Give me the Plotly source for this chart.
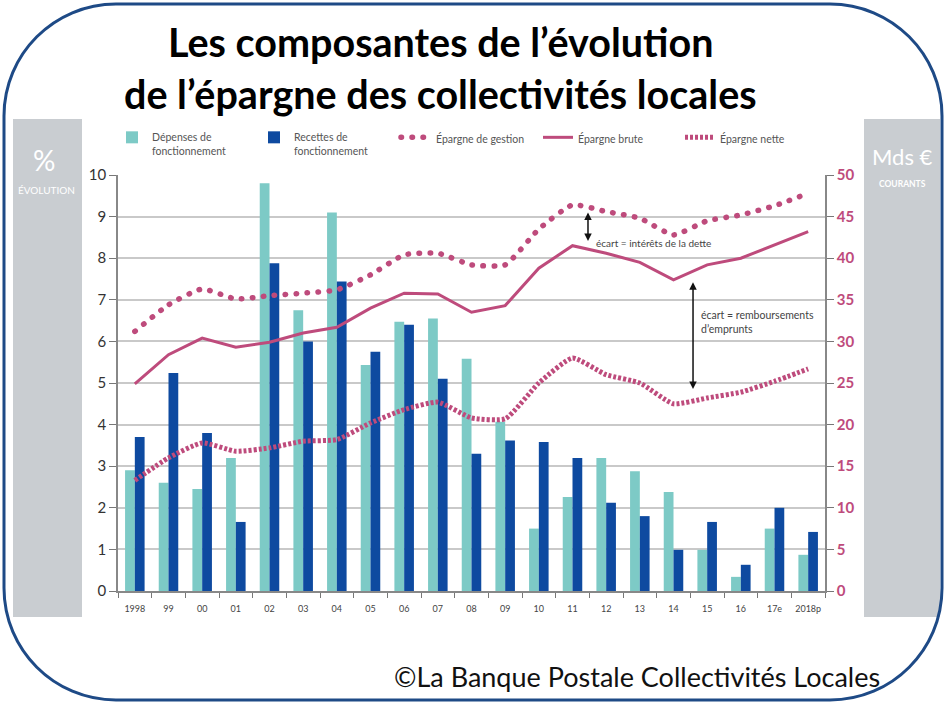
import plotly.graph_objects as go

# ---------------- data ----------------
years = ["1998", "99", "00", "01", "02", "03", "04", "05", "06", "07", "08",
         "09", "10", "11", "12", "13", "14", "15", "16", "17e", "2018p"]
depenses = [2.9, 2.6, 2.45, 3.2, 9.8, 6.75, 9.1, 5.43, 6.47, 6.55, 5.58,
            4.07, 1.5, 2.26, 3.2, 2.88, 2.38, 0.99, 0.34, 1.5, 0.87]
recettes = [3.7, 5.24, 3.8, 1.66, 7.88, 6.0, 7.44, 5.75, 6.4, 5.1, 3.3,
            3.62, 3.58, 3.2, 2.12, 1.8, 0.99, 1.66, 0.63, 2.0, 1.42]
ep_gestion = [31.2, 34.4, 36.3, 35.1, 35.5, 35.8, 36.2, 38.0, 40.4, 40.6, 39.2,
              39.2, 43.5, 46.4, 45.6, 44.8, 42.8, 44.5, 45.2, 46.3, 47.8]
ep_brute = [24.9, 28.4, 30.4, 29.3, 29.9, 31.0, 31.7, 34.0, 35.8, 35.7, 33.5,
            34.3, 38.8, 41.5, 40.6, 39.5, 37.4, 39.2, 40.0, 41.6, 43.2]
ep_nette = [13.3, 16.0, 17.8, 16.8, 17.2, 18.0, 18.2, 20.2, 21.8, 22.7, 20.8,
            20.7, 25.0, 28.0, 26.0, 25.0, 22.5, 23.2, 23.9, 25.2, 26.7]
left_ticks = list(range(0, 11))
right_ticks = list(range(0, 51, 5))

TEAL = "#7DCAC6"
BLUE = "#0E4AA0"
PINK = "#BE4B7C"
FONT = "Lato"

W, H = 946, 703
L, R, T, B = 118, 825, 175, 591


def px(x):
    return (x - L) / (R - L)


def py(y):
    return (B - y) / (B - T)


fig = go.Figure()
fig.add_trace(go.Bar(x=years, y=depenses, name="Dépenses de<br>fonctionnement",
                     marker=dict(color=TEAL, line=dict(width=0)), yaxis="y"))
fig.add_trace(go.Bar(x=years, y=recettes, name="Recettes de<br>fonctionnement",
                     marker=dict(color=BLUE, line=dict(width=0)), yaxis="y"))
fig.add_trace(go.Scatter(x=years, y=ep_gestion, name="Épargne de gestion", mode="lines",
                         line=dict(color=PINK, width=5.5, dash="0.5px,10.5px", shape="spline",
                                   smoothing=0.5), yaxis="y2"))
fig.add_trace(go.Scatter(x=years, y=ep_brute, name="Épargne brute", mode="lines",
                         line=dict(color=PINK, width=3), yaxis="y2"))
fig.add_trace(go.Scatter(x=years, y=ep_nette, name="Épargne nette", mode="lines",
                         line=dict(color=PINK, width=5, dash="3px,2px", shape="spline",
                                   smoothing=0.5), yaxis="y2"))

shapes = []
# grey side panels
shapes.append(dict(type="rect", xref="paper", yref="paper", x0=px(13), x1=px(82),
                   y0=py(617), y1=py(119), fillcolor="#C9CDD1", line=dict(width=0),
                   layer="below"))
shapes.append(dict(type="rect", xref="paper", yref="paper", x0=px(864), x1=px(940),
                   y0=py(617), y1=py(119), fillcolor="#C9CDD1", line=dict(width=0),
                   layer="below"))

# rounded frame
x0, x1, y0, y1, r = 4, 942, 4, 700, 112
k = 0.5523 * r
pts = [
    ("M", [(x0 + r, y0)]),
    ("L", [(x1 - r, y0)]),
    ("C", [(x1 - r + k, y0), (x1, y0 + r - k), (x1, y0 + r)]),
    ("L", [(x1, y1 - r)]),
    ("C", [(x1, y1 - r + k), (x1 - r + k, y1), (x1 - r, y1)]),
    ("L", [(x0 + r, y1)]),
    ("C", [(x0 + r - k, y1), (x0, y1 - r + k), (x0, y1 - r)]),
    ("L", [(x0, y0 + r)]),
    ("C", [(x0, y0 + r - k), (x0 + r - k, y0), (x0 + r, y0)]),
]
path = ""
for cmd, ps in pts:
    path += cmd + " " + " ".join(f"{px(a):.5f},{py(b):.5f}" for a, b in ps) + " "
path += "Z"
shapes.append(dict(type="path", xref="paper", yref="paper", path=path,
                   line=dict(color="#1E4A86", width=3), fillcolor="rgba(0,0,0,0)",
                   layer="above"))


def txt(text, x, y, size, color, xanchor="center", **kw):
    return dict(text=text, xref="paper", yref="paper", x=px(x), y=py(y), showarrow=False,
                xanchor=xanchor, yanchor="middle",
                font=dict(family=FONT, size=size, color=color), **kw)


ann = []
ann.append(txt("<b>Les composantes de l’évolution</b>", 440, 42, 39.5, "#000"))
ann.append(txt("<b>de l’épargne des collectivités locales</b>", 440, 93, 39.5, "#000"))
ann.append(txt("©La Banque Postale Collectivités Locales", 882, 676, 27, "#111",
               xanchor="right"))
# panel texts
ann.append(txt("%", 44, 160, 28, "white"))
ann.append(txt("ÉVOLUTION", 46, 190, 10, "white"))
ann.append(txt("Mds €", 902, 157, 22, "white"))
ann.append(txt("<b>COURANTS</b>", 902, 184, 8.5, "white"))
# gap annotations
ann.append(dict(x=13.46, y=45.5, ax=13.46, ay=41.9, xref="x", yref="y2", axref="x",
                ayref="y2", showarrow=True, arrowhead=2, startarrowhead=2,
                arrowside="end+start", arrowsize=1, arrowwidth=1.5, arrowcolor="#111",
                text=""))
ann.append(txt("écart = intérêts de la dette", 594, 243, 10, "#444", xanchor="left"))
ann.append(dict(x=16.58, y=37.1, ax=16.58, ay=24.1, xref="x", yref="y2", axref="x",
                ayref="y2", showarrow=True, arrowhead=2, startarrowhead=2,
                arrowside="end+start", arrowsize=1, arrowwidth=1.5, arrowcolor="#111",
                text=""))
ann.append(txt("écart = remboursements<br>d’emprunts", 699, 322, 10.5, "#444",
               xanchor="left", align="left"))

fig.update_layout(
    width=W, height=H,
    margin=dict(l=L, r=W - R, t=T, b=H - B, pad=0),
    paper_bgcolor="white", plot_bgcolor="white",
    barmode="group", bargap=0.42, bargroupgap=0,
    font=dict(family=FONT, color="#444"),
    showlegend=True,
    legend=dict(orientation="h", x=px(112), y=py(124), xanchor="left", yanchor="top",
                valign="top", font=dict(family=FONT, size=10.5, color="#555"),
                itemwidth=30, entrywidth=97, bgcolor="rgba(0,0,0,0)", tracegroupgap=0),
    xaxis=dict(type="category", range=[-0.5, 20.5], tickson="boundaries", ticks="outside",
               ticklen=5, tickcolor="#777", tickwidth=1, showline=True, linecolor="#888",
               linewidth=1.5, showgrid=False, tickangle=0, ticklabelstandoff=8,
               tickfont=dict(size=9, color="#444")),
    yaxis=dict(range=[0, 10], tickvals=left_ticks, showgrid=True, gridcolor="#C9C9C9",
               gridwidth=1.5, zeroline=False, showline=True, linecolor="#888", linewidth=1.5,
               ticks="outside", ticklen=7, tickcolor="#777",
               tickfont=dict(size=15, color="#333")),
    yaxis2=dict(range=[0, 50], tickvals=right_ticks, overlaying="y", side="right",
                showgrid=False, zeroline=False, showline=True, linecolor="#888",
                linewidth=1.5, ticks="outside", ticklen=7, tickcolor="#777",
                tickfont=dict(size=15, color=PINK, weight="bold")),
    shapes=shapes, annotations=ann,
)

css = ("document.body.style.margin='0';"
       "var s=document.createElement('style');"
       "s.textContent='.scatterlayer .trace:nth-child(1) .js-line,"
       ".legend .traces:nth-child(3) .js-line{stroke-linecap:round !important;}';"
       "document.head.appendChild(s);")
fig.write_html("out.html", config={"displayModeBar": False}, post_script=css)
